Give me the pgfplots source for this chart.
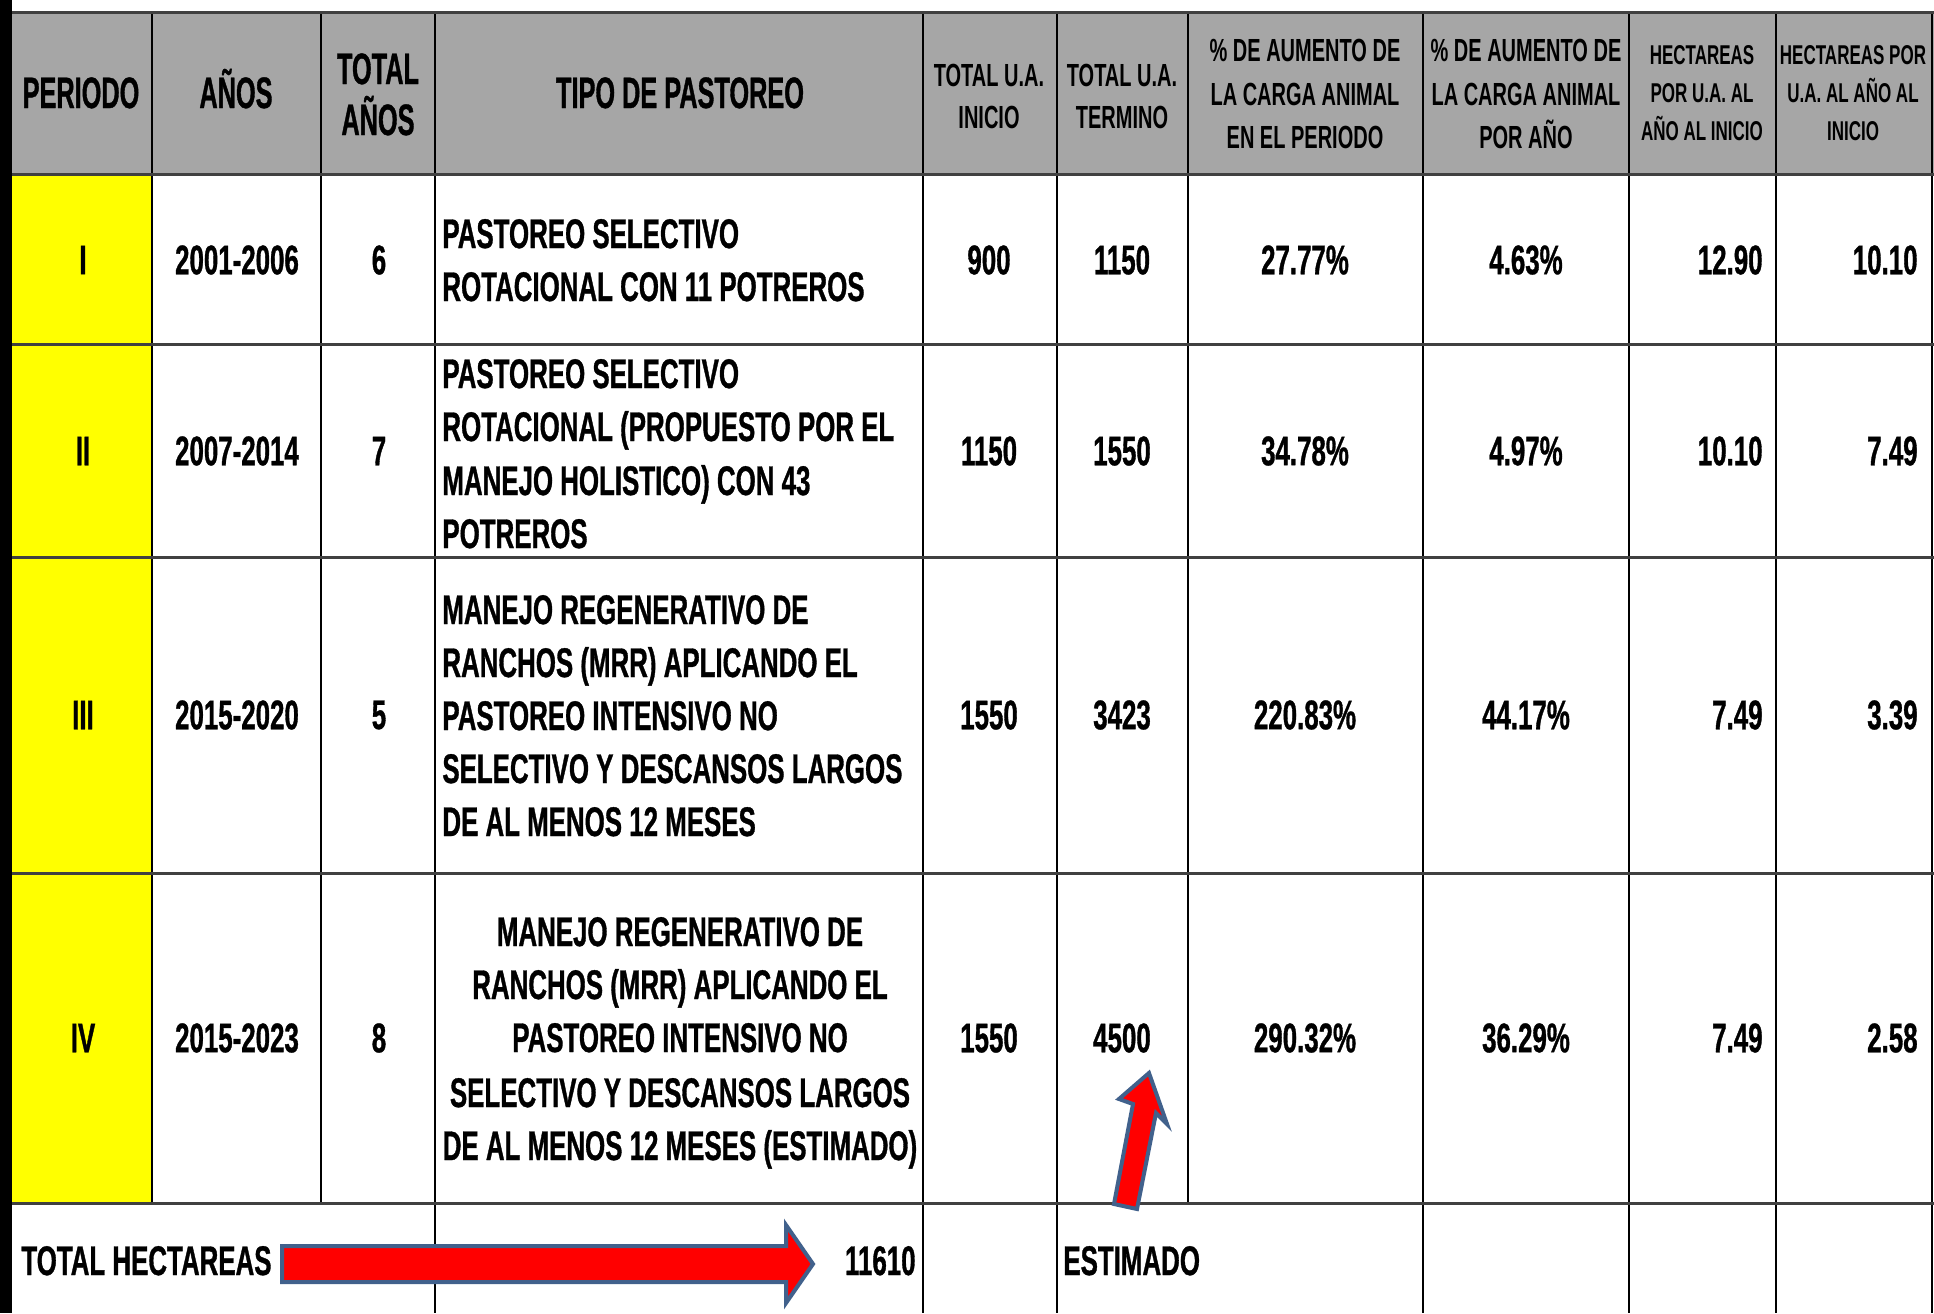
\documentclass[border=0pt]{standalone}
\usepackage{pgfplots}
\pgfplotsset{compat=1.18}
\usepackage{fontspec}
\setmainfont{Liberation Sans}[FakeStretch=0.625, BoldFeatures={FakeBold=0.8}]
\newfontfamily\hdrfont{Liberation Sans}[FakeStretch=0.575, BoldFeatures={FakeBold=0.8}]
\newfontfamily\hdrsfont{Liberation Sans}[FakeStretch=0.625]
\definecolor{hdr}{HTML}{A6A6A6}
\definecolor{yel}{HTML}{FFFF00}
\definecolor{arrb}{HTML}{41618C}
\definecolor{arrr}{HTML}{FF0000}
\newcommand\fbig{\fontsize{20.7pt}{26pt}\selectfont\bfseries}
\newcommand\fhbig{\hdrfont\fontsize{22pt}{26pt}\selectfont\bfseries}
\newcommand\fmed{\hdrsfont\fontsize{16pt}{21pt}\selectfont\bfseries}
\newcommand\fsml{\hdrsfont\fontsize{13.6pt}{19pt}\selectfont\bfseries}
\tikzset{
  H/.style={anchor=base, inner sep=0pt, font=\fhbig},
  B/.style={anchor=base, inner sep=0pt, font=\fbig},
  BW/.style={anchor=base west, inner sep=0pt, font=\fbig},
  BE/.style={anchor=base east, inner sep=0pt, font=\fbig},
  M/.style={anchor=base, inner sep=0pt, font=\fmed},
  S/.style={anchor=base, inner sep=0pt, font=\fsml},
}
\begin{document}
\begin{tikzpicture}
\begin{axis}[width=967pt,height=656.5pt,scale only axis,
  xmin=0,xmax=1934,ymin=0,ymax=1313,y dir=reverse,hide axis]
% backgrounds
\fill[white] (axis cs:0,0) rectangle (axis cs:1934,1313);
\fill[black] (axis cs:0,0) rectangle (axis cs:12,1313);
\fill[hdr] (axis cs:12,12) rectangle (axis cs:1934,174);
\fill[yel] (axis cs:12,174) rectangle (axis cs:152,1203);
% grid
\pgfplotsinvokeforeach{152,321,435,923,1057,1188,1423,1629,1776,1932}{
  \draw[black, line width=0.8pt] (axis cs:#1,12) -- (axis cs:#1,1203);}
\pgfplotsinvokeforeach{435,923,1057,1423,1629,1776,1932}{
  \draw[black, line width=0.8pt] (axis cs:#1,1203) -- (axis cs:#1,1313);}
\pgfplotsinvokeforeach{12,174,344,557,873,1203}{
  \draw[black!75, line width=1.5pt] (axis cs:12,#1) -- (axis cs:1934,#1);}
% header
\node[H] at (axis cs:81,108) {PERIODO};
\node[H] at (axis cs:236,108) {AÑOS};
\node[H] at (axis cs:378,84) {TOTAL};
\node[H] at (axis cs:378,135) {AÑOS};
\node[H] at (axis cs:680,108) {TIPO DE PASTOREO};
\node[M] at (axis cs:989,86) {TOTAL U.A.};
\node[M] at (axis cs:989,128) {INICIO};
\node[M] at (axis cs:1122,86) {TOTAL U.A.};
\node[M] at (axis cs:1122,128) {TERMINO};
\node[M] at (axis cs:1305,61) {\% DE AUMENTO DE};
\node[M] at (axis cs:1305,105) {LA CARGA ANIMAL};
\node[M] at (axis cs:1305,148) {EN EL PERIODO};
\node[M] at (axis cs:1526,61) {\% DE AUMENTO DE};
\node[M] at (axis cs:1526,105) {LA CARGA ANIMAL};
\node[M] at (axis cs:1526,148) {POR AÑO};
\node[S] at (axis cs:1702,64) {HECTAREAS};
\node[S] at (axis cs:1702,102) {POR U.A. AL};
\node[S] at (axis cs:1702,140) {AÑO AL INICIO};
\node[S] at (axis cs:1853,64) {HECTAREAS POR};
\node[S] at (axis cs:1853,102) {U.A. AL AÑO AL};
\node[S] at (axis cs:1853,140) {INICIO};
% tipo de pastoreo
\node[BW] at (axis cs:442,248) {PASTOREO SELECTIVO};
\node[BW] at (axis cs:442,301) {ROTACIONAL CON 11 POTREROS};
\node[BW] at (axis cs:442,388) {PASTOREO SELECTIVO};
\node[BW] at (axis cs:442,441) {ROTACIONAL (PROPUESTO POR EL};
\node[BW] at (axis cs:442,495) {MANEJO HOLISTICO) CON 43};
\node[BW] at (axis cs:442,548) {POTREROS};
\node[BW] at (axis cs:442,624) {MANEJO REGENERATIVO DE};
\node[BW] at (axis cs:442,677) {RANCHOS (MRR) APLICANDO EL};
\node[BW] at (axis cs:442,730) {PASTOREO INTENSIVO NO};
\node[BW] at (axis cs:442,783) {SELECTIVO Y DESCANSOS LARGOS};
\node[BW] at (axis cs:442,836) {DE AL MENOS 12 MESES};
\node[B] at (axis cs:680,946) {MANEJO REGENERATIVO DE};
\node[B] at (axis cs:680,999) {RANCHOS (MRR) APLICANDO EL};
\node[B] at (axis cs:680,1052) {PASTOREO INTENSIVO NO};
\node[B] at (axis cs:680,1107) {SELECTIVO Y DESCANSOS LARGOS};
\node[B] at (axis cs:680,1160) {DE AL MENOS 12 MESES (ESTIMADO)};
% total row
\node[BW] at (axis cs:21,1275) {TOTAL HECTAREAS};
\node[BE] at (axis cs:916,1275) {11610};
\node[BW] at (axis cs:1063,1275) {ESTIMADO};
% centred values
\addplot[draw=none, mark=none, point meta=explicit symbolic, nodes near coords,
  nodes near coords align={center},
  nodes near coords style={inner sep=0pt, text=black, font=\fbig}]
 coordinates {
 (83,260) [I] (237,260) [2001-2006] (379,260) [6] (989,260) [900] (1122,260) [1150] (1305,260) [27.77\%] (1526,260) [4.63\%]
 (83,451) [II] (237,451) [2007-2014] (379,451) [7] (989,451) [1150] (1122,451) [1550] (1305,451) [34.78\%] (1526,451) [4.97\%]
 (83,715) [III] (237,715) [2015-2020] (379,715) [5] (989,715) [1550] (1122,715) [3423] (1305,715) [220.83\%] (1526,715) [44.17\%]
 (83,1038) [IV] (237,1038) [2015-2023] (379,1038) [8] (989,1038) [1550] (1122,1038) [4500] (1305,1038) [290.32\%] (1526,1038) [36.29\%]
 };
% right-aligned values
\addplot[draw=none, mark=none, point meta=explicit symbolic, nodes near coords,
  nodes near coords align={east},
  nodes near coords style={inner sep=0pt, text=black, font=\fbig}]
 coordinates {
 (1763,260) [12.90] (1918,260) [10.10]
 (1763,451) [10.10] (1918,451) [7.49]
 (1763,715) [7.49] (1918,715) [3.39]
 (1763,1038) [7.49] (1918,1038) [2.58]
 };
% arrows
\filldraw[fill=arrr, draw=arrb, line width=2pt, line join=miter]
 (axis cs:282,1246) -- (axis cs:786,1246) -- (axis cs:786,1225) -- (axis cs:813,1264)
 -- (axis cs:786,1303) -- (axis cs:786,1282) -- (axis cs:282,1282) -- cycle;
\filldraw[fill=arrr, draw=arrb, line width=2pt, line join=miter]
 (axis cs:1149,1073) -- (axis cs:1167,1124) -- (axis cs:1156,1113) -- (axis cs:1137,1209)
 -- (axis cs:1114,1204) -- (axis cs:1133,1104) -- (axis cs:1119,1099) -- cycle;
\end{axis}
\end{tikzpicture}
\end{document}
